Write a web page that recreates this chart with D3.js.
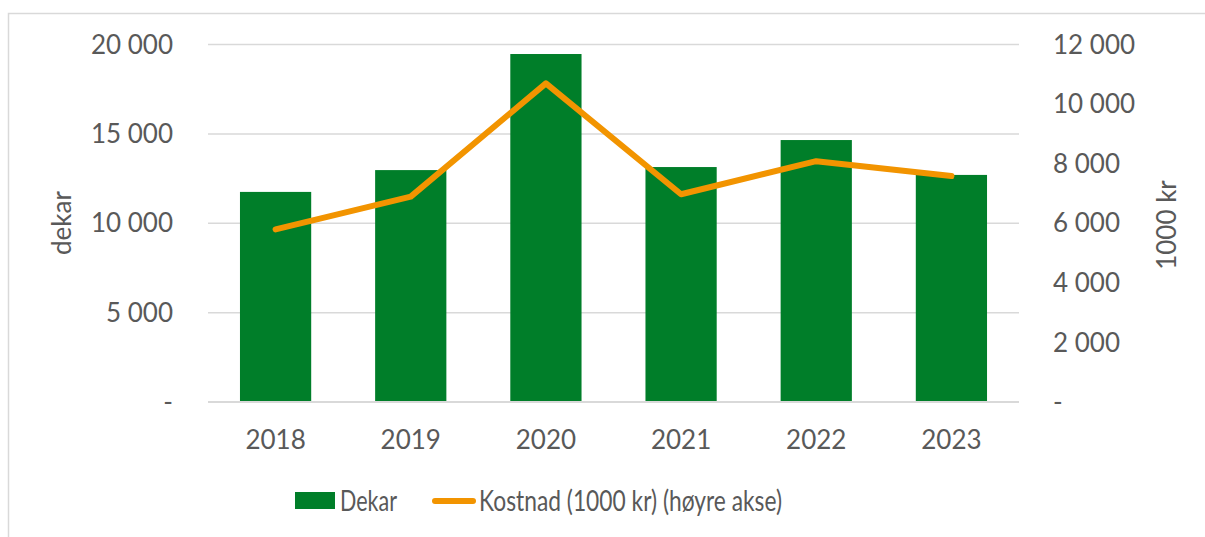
<!DOCTYPE html>
<html><head><meta charset="utf-8">
<script src="https://cdn.jsdelivr.net/npm/d3@7"></script>
<style>body{margin:0;background:#fff}svg{display:block}text{font-family:Lato,"Open Sans",sans-serif;fill:#595959}</style>
</head><body><svg id="c" width="1205" height="537"></svg>
<script>
const years = ["2018","2019","2020","2021","2022","2023"];
const dekar = [11730, 12950, 19440, 13120, 14630, 12680];
const kostnad = [5780, 6880, 10680, 6960, 8070, 7570];
const leftTicks = [0, 5000, 10000, 15000, 20000];
const rightTicks = [0, 2000, 4000, 6000, 8000, 10000, 12000];
const seriesNames = ["Dekar", "Kostnad (1000 kr) (høyre akse)"];
const axisTitles = ["dekar", "1000 kr"];

const svg = d3.select("#c");
const L = 208, R = 1019, T = 44, B = 401.7;
const fmt = v => v === 0 ? "-" : d3.format(",")(v).replace(/,/g, " ");

svg.append("rect").attr("x",8.5).attr("y",13.5).attr("width",1220).attr("height",540)
  .attr("fill","none").attr("stroke","#D9D9D9").attr("stroke-width",1.5);

const x = d3.scaleBand().domain(years).range([L,R]).paddingInner(0.473).paddingOuter(0.2365);
const yL = d3.scaleLinear().domain([0,20000]).range([B,T]);
const yR = d3.scaleLinear().domain([0,12000]).range([B,T]);

// gridlines
svg.append("g").attr("transform",`translate(${L},0)`)
  .call(d3.axisLeft(yL).tickValues(leftTicks).tickSize(-(R-L)).tickFormat(""))
  .call(g=>g.select(".domain").remove())
  .call(g=>g.selectAll("line").attr("stroke","#D9D9D9").attr("stroke-width",1.5));

// left labels
const gl = svg.append("g").attr("transform",`translate(173,0)`)
  .call(d3.axisLeft(yL).tickValues(leftTicks).tickSize(0).tickPadding(0).tickFormat(fmt));
gl.select(".domain").remove();
gl.selectAll("text").attr("font-size",26).attr("font-family","Lato").attr("fill","#595959").attr("dy","0.35em");

// right labels
const gr = svg.append("g").attr("transform",`translate(1053,0)`)
  .call(d3.axisRight(yR).tickValues(rightTicks).tickSize(0).tickPadding(0).tickFormat(fmt));
gr.select(".domain").remove();
gr.selectAll("text").attr("font-size",26).attr("font-family","Lato").attr("fill","#595959").attr("dy","0.35em");

// bars
svg.append("g").selectAll("rect").data(years).join("rect")
  .attr("x",d=>x(d)).attr("width",x.bandwidth())
  .attr("y",(d,i)=>yL(dekar[i])).attr("height",(d,i)=>B-yL(dekar[i]))
  .attr("fill","#007E29");

// baseline
svg.append("line").attr("x1",L).attr("x2",R).attr("y1",B).attr("y2",B).attr("stroke","#D9D9D9").attr("stroke-width",1.5);

// line
const line = d3.line().x((d,i)=>x(years[i])+x.bandwidth()/2).y(d=>yR(d));
svg.append("path").datum(kostnad).attr("d",line).attr("fill","none")
  .attr("stroke","#F29400").attr("stroke-width",6).attr("stroke-linecap","round").attr("stroke-linejoin","round");

// x labels
const gx = svg.append("g").attr("transform",`translate(0,${B})`)
  .call(d3.axisBottom(x).tickSize(0).tickPadding(0));
gx.select(".domain").remove();
gx.selectAll("text").attr("font-size",26).attr("font-family","Lato").attr("fill","#595959").attr("dy",0).attr("y",47);

// axis titles
svg.append("text").attr("transform","translate(71,223) rotate(-90)").attr("text-anchor","middle")
  .attr("font-size",26).text(axisTitles[0]);
svg.append("text").attr("transform","translate(1176,225) rotate(-90)").attr("text-anchor","middle")
  .attr("font-size",26).text(axisTitles[1]);

// legend
svg.append("rect").attr("x",295).attr("y",492).attr("width",40).attr("height",17).attr("fill","#007E29");
svg.append("text").attr("x",340).attr("y",501).attr("dy","0.36em").attr("font-size",29)
  .attr("textLength",57).attr("lengthAdjust","spacingAndGlyphs").text(seriesNames[0]);
svg.append("line").attr("x1",435).attr("x2",473).attr("y1",501).attr("y2",501).attr("stroke","#F29400").attr("stroke-width",6).attr("stroke-linecap","round");
svg.append("text").attr("x",479).attr("y",501).attr("dy","0.36em").attr("font-size",29)
  .attr("textLength",303).attr("lengthAdjust","spacingAndGlyphs").text(seriesNames[1]);
</script></body></html>
